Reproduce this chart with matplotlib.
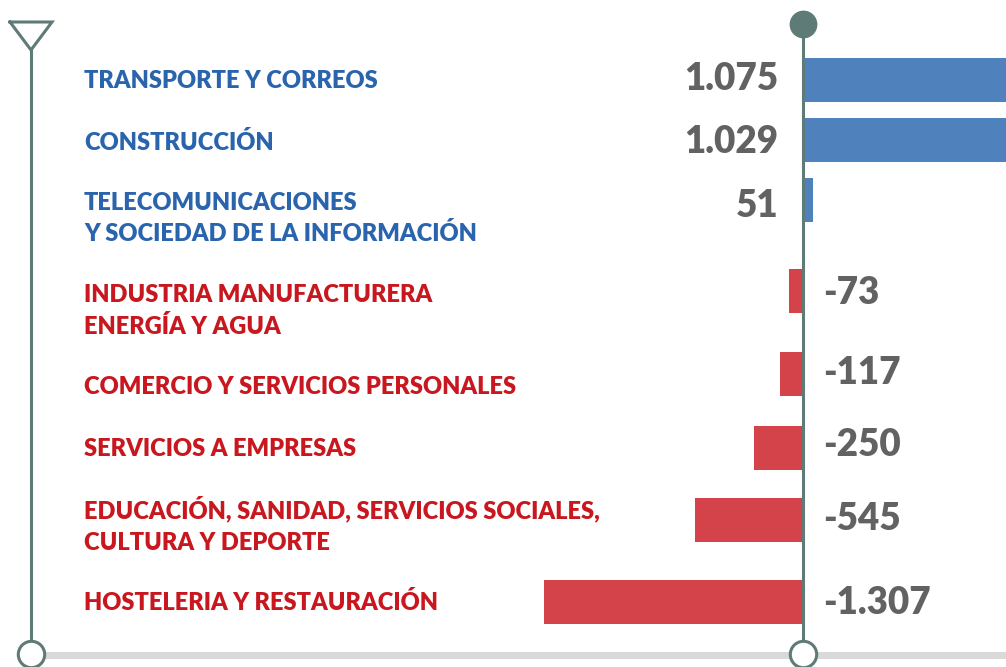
import matplotlib.pyplot as plt

# data
sectors = ['TRANSPORTE Y CORREOS',
           'CONSTRUCCIÓN',
           'TELECOMUNICACIONES\nY SOCIEDAD DE LA INFORMACIÓN',
           'INDUSTRIA MANUFACTURERA\nENERGÍA Y AGUA',
           'COMERCIO Y SERVICIOS PERSONALES',
           'SERVICIOS A EMPRESAS',
           'EDUCACIÓN, SANIDAD, SERVICIOS SOCIALES,\nCULTURA Y DEPORTE',
           'HOSTELERIA Y RESTAURACIÓN']
values = [1075, 1029, 51, -73, -117, -250, -545, -1307]

# layout (pixel rows of the original picture)
bar_y = [80, 140, 199.5, 291, 373.5, 448, 520, 602]
label_y = [80, 141, 201.5, 294, 386, 447, 510, 602]
value_y = [77.5, 140, 204, 291, 371, 443, 517, 601]

W, H = 1006, 667
zero_px = 803
scale = 0.198  # px per unit

blue_txt = '#2a64ad'
red_txt = '#c8171e'
blue_bar = '#4f81bd'
red_bar = '#d44349'
grey_txt = '#626262'
line_c = '#5e7b77'


def px(x):
    return (x - zero_px) / scale


plt.rcParams['font.family'] = ['Lato', 'DejaVu Sans']

fig = plt.figure(figsize=(W / 100, H / 100), dpi=100)
ax = fig.add_axes([0, 0, 1, 1])
ax.set_xlim(px(0), px(W))
ax.set_ylim(H, 0)
ax.axis('off')

colors = [blue_bar if v > 0 else red_bar for v in values]
ax.barh(bar_y, values, height=44, color=colors, zorder=2)

for lab, y, v in zip(sectors, label_y, values):
    c = blue_txt if v > 0 else red_txt
    for i, line in enumerate(lab.split('\n')):
        ax.text(px(84), y + i * 31 + 8.5, line, color=c, fontsize=17,
                fontweight='heavy', ha='left', va='baseline')

for v, y in zip(values, value_y):
    s = f'{v:,}'.replace(',', '.')
    if v > 0:
        ax.text(px(778), y + 13, s, color=grey_txt, fontsize=26.5,
                fontweight='heavy', ha='right', va='baseline')
    else:
        ax.text(px(823), y + 13, s, color=grey_txt, fontsize=26.5,
                fontweight='heavy', ha='left', va='baseline')

# decorations
ax.plot([px(31), px(W)], [655, 655], color='#d9d9d9', lw=5, zorder=1,
        solid_capstyle='butt')
ax.plot([px(31), px(31)], [50, 655], color=line_c, lw=2.2, zorder=3)
ax.plot([px(10), px(52), px(31), px(10)], [22, 22, 50, 22], color=line_c,
        lw=2.2, zorder=3, solid_joinstyle='miter')
ax.plot([px(zero_px), px(zero_px)], [24, 655], color=line_c, lw=2.2, zorder=3)
ax.plot([px(zero_px)], [24], marker='o', ms=19, color=line_c, mec=line_c,
        zorder=4)
ax.plot([px(31), px(zero_px)], [654, 654], ls='none', marker='o', ms=19,
        mfc='white', mec=line_c, mew=2.2, zorder=4)

plt.savefig('out.png', dpi=100)
